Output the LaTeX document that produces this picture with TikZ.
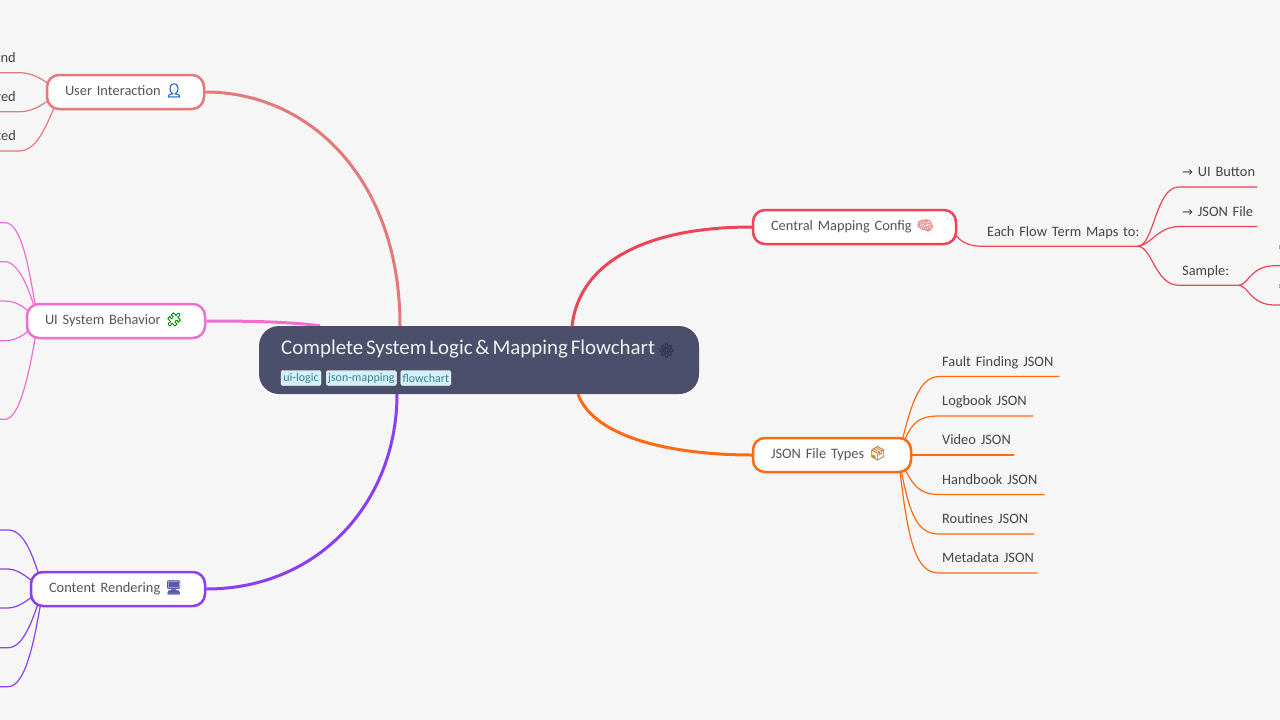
\documentclass[tikz,border=0pt]{standalone}
\usepackage{fontspec}
\setmainfont[WordSpace=0.6]{Carlito}
\newfontfamily\emojifont[FakeBold=1.2]{Noto Emoji}
\newfontfamily\symfont{DejaVu Sans}
\usetikzlibrary{backgrounds,positioning}
\definecolor{pagebg}{HTML}{F6F6F6}
\definecolor{rootfill}{HTML}{4C4F6B}
\definecolor{boxtext}{HTML}{555555}
\definecolor{leaftext}{HTML}{444444}
\definecolor{tagfill}{HTML}{D3F1F8}
\definecolor{tagtext}{HTML}{3F8096}
\definecolor{usercol}{HTML}{E27A7A}
\definecolor{behavcol}{HTML}{EE6FD0}
\definecolor{rendercol}{HTML}{8A3FF5}
\definecolor{mapcol}{HTML}{EE4458}
\definecolor{filecol}{HTML}{FF6A13}
\newcommand{\emo}[2]{{\color{#1}\emojifont\fontsize{13.5}{15}\selectfont #2}}
\tikzset{
  topicbox/.style={draw, line width=2.5pt, rounded corners=12pt, fill=white, minimum height=34pt, inner xsep=18pt, inner ysep=0pt, text height=10pt, text depth=4pt, text=boxtext, align=left, font=\fontsize{14.4}{17}\selectfont},
  leaf/.style={anchor=south west, inner xsep=3pt, inner ysep=7pt, text height=10pt, text depth=3pt, text=leaftext, align=left, font=\fontsize{14.4}{17}\selectfont},
  leafleft/.style={anchor=south east, inner xsep=3pt, inner ysep=7pt, text height=10pt, text depth=3pt, text=leaftext, font=\fontsize{14.4}{17}\selectfont},
  tagbox/.style={fill=tagfill, draw=white, line width=.4pt, rounded corners=2pt, inner xsep=0pt, inner ysep=0pt, minimum height=15pt, text=tagtext, font=\fontsize{12}{14}\selectfont},
  trunk/.style={line width=3pt},
  twig/.style={line width=1.2pt}
}
\begin{document}
\begin{tikzpicture}[x=1pt, y=-1pt]
    \useasboundingbox (0,0) rectangle (1280,720);

    \node[fill=rootfill, rounded corners=20pt, minimum width=440pt, minimum height=68pt, inner sep=0pt] (root) at (479,360) {};
    \node[anchor=west, inner sep=0pt, text=white!92!rootfill, font=\fontsize{20.9}{24}\selectfont] (roottitle) at (281,349.5) {Complete System Logic \& Mapping Flowchart \emo{black!35!rootfill}{⚙}};
    \node[tagbox, minimum width=40pt] (tagui) at (301,378) {ui-logic};
    \node[tagbox, minimum width=70pt, right=5pt of tagui] (tagjson) {json-mapping};
    \node[tagbox, minimum width=50pt, right=4pt of tagjson] (tagflow) {flowchart};

    \node[topicbox, draw=usercol, text width=121pt] (user) at (125.5,92) {\mbox{User Interaction \emo{blue!60!cyan!80!black}{👤}}};
    \node[topicbox, draw=behavcol, text width=142pt] (behav) at (116,321) {\mbox{UI System Behavior \emo{green!55!black}{🧩}}};
    \node[topicbox, draw=rendercol, text width=138pt] (render) at (118,589) {\mbox{Content Rendering \emo{blue!30!gray}{🖥}}};
    \node[topicbox, draw=mapcol, text width=167pt] (map) at (854.5,227) {\mbox{Central Mapping Config \emo{red!45!white!85!gray}{🧠}}};
    \node[topicbox, draw=filecol, text width=122pt] (file) at (832,455) {\mbox{JSON File Types \emo{brown!85!orange}{📦}}};

    \foreach \name/\txt/\y in {nd/nd/72.7, red/red/111.7, ted/ted/151}
    \node[leafleft] (\name) at (19,\y) {\txt};

    \foreach \name/\y in {bone/222.7, btwo/261.7, bthree/301, bfour/340.7, bfive/419.3}
    \coordinate (\name) at (5,\y);
    \foreach \name/\y in {rone/530, rtwo/569, rthree/608, rfour/647.7, rfive/686.7}
    \coordinate (\name) at (8,\y);

    \node[leaf, text width=147pt] (flow) at (984,246.3) {\mbox{Each Flow Term Maps to:}};
    \node[leaf, text width=72pt] (button) at (1179,187) {\mbox{{\symfont\fontsize{13}{15}\selectfont →} UI Button}};
    \node[leaf, text width=72pt] (jsonfile) at (1179,226.5) {\mbox{{\symfont\fontsize{13}{15}\selectfont →} JSON File}};
    \node[leaf, text width=53pt] (sample) at (1179,285.3) {Sample:};
    \node[leaf, text width=6pt] (quoteone) at (1275,265.7) {"};
    \node[leaf, text width=6pt] (quotetwo) at (1275,305) {"};

    \foreach \name/\txt/\w/\y in {fault/Fault Finding JSON/114/376.5, logbook/Logbook JSON/88/416, video/Video JSON/69/455, handbook/Handbook JSON/99/494.5, routines/Routines JSON/89/534, metadata/Metadata JSON/92/573}
    \node[leaf, text width=\w pt] (\name) at (939,\y) {\mbox{\txt}};

    \begin{scope}[on background layer]
    \fill[pagebg] (0,0) rectangle (1280,720);

    \draw[trunk, usercol] (user.east) .. controls +(105,0) and +(0,-146) .. ([xshift=-79pt]root.north);
    \draw[trunk, behavcol] (behav.east) .. controls +(44,0) and +(-30,-4) .. ([xshift=-159pt]root.north);
    \draw[trunk, rendercol] (render.east) .. controls +(114,0) and +(0,106) .. ([xshift=-82pt]root.south);
    \draw[trunk, mapcol] (map.west) .. controls +(-102,0) and +(8,-66) .. ([xshift=93pt]root.north);
    \draw[trunk, filecol] (file.west) .. controls +(-72,0) and +(17,46) .. ([xshift=99pt]root.south);

    \coordinate (userhub) at ([xshift=-65pt]user.center);
    \draw[twig, usercol] (userhub) .. controls +(-15,-10) and +(17,0) .. (nd.south east) -- ++(-19,0);
    \draw[twig, usercol] (userhub) .. controls +(-15,10) and +(17,0) .. (red.south east) -- ++(-19,0);
    \draw[twig, usercol] (userhub) .. controls +(-12,28) and +(20,0) .. (ted.south east) -- ++(-19,0);

    \coordinate (behavhub) at ([xshift=-78pt]behav.center);
    \foreach \name/\a/\b/\c in {bone/-8/-45/18, btwo/-6/-25/15, bthree/-8/-9/15, bfour/-8/9/15, bfive/-8/50/15}
    \draw[twig, behavcol] (behavhub) .. controls +(\a,\b) and +(\c,0) .. (\name) -- ++(-5,0);

    \coordinate (renderhub) at ([xshift=-75pt]render.center);
    \foreach \name/\a/\b/\c in {rone/-10/-35/16, rtwo/-12/-8/12, rthree/-12/8/12, rfour/-10/30/16, rfive/-8/50/18}
    \draw[twig, rendercol] (renderhub) .. controls +(\a,\b) and +(\c,0) .. (\name) -- ++(-8,0);

    \coordinate (maphub) at ([xshift=-7pt]map.east);
    \draw[twig, mapcol] (maphub) .. controls +(8,13) and +(-20,0) .. (flow.south west) -- (flow.south east);
    \draw[twig, mapcol] (flow.south east) .. controls +(17,0) and +(-24,0) .. (button.south west) -- (button.south east);
    \draw[twig, mapcol] (flow.south east) .. controls +(12,0) and +(-21,0) .. (jsonfile.south west) -- (jsonfile.south east);
    \draw[twig, mapcol] (flow.south east) .. controls +(15,0) and +(-24,0) .. (sample.south west) -- (sample.south east);
    \draw[twig, mapcol] (sample.south east) .. controls +(10,0) and +(-25,0) .. (quoteone.south west) -- (quoteone.south east);
    \draw[twig, mapcol] (sample.south east) .. controls +(10,0) and +(-25,0) .. (quotetwo.south west) -- (quotetwo.south east);

    \coordinate (filehub) at ([xshift=-14pt]file.east);
    \foreach \name/\a/\b in {fault/10/-35, logbook/12/-30, video/10/0, handbook/12/25, routines/10/55, metadata/9/85}
    \draw[twig, filecol] (filehub) .. controls +(\a,\b) and +(-24,0) .. (\name.south west) -- (\name.south east);
    \end{scope}

  \end{tikzpicture}
\end{document}
